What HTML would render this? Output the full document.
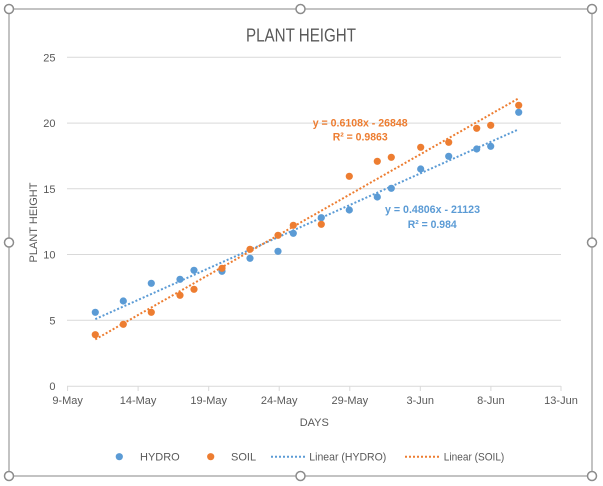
<!DOCTYPE html>
<html><head><meta charset="utf-8"><style>
html,body{margin:0;padding:0;background:#fff;}
svg{display:block;}
text{font-family:"Liberation Sans",Arial,sans-serif;}
</style></head><body>
<svg width="603" height="486" viewBox="0 0 603 486" xmlns="http://www.w3.org/2000/svg">
<rect x="0" y="0" width="603" height="486" fill="#fff"/>
<!-- border -->
<rect x="9" y="9" width="583" height="467" fill="#fff" stroke="#9b9b9b" stroke-width="1.2"/>
<!-- title -->
<text x="301" y="41.5" font-size="18.5" fill="#595959" text-anchor="middle" textLength="110" lengthAdjust="spacingAndGlyphs">PLANT HEIGHT</text>
<!-- gridlines -->
<g stroke="#d9d9d9" stroke-width="1">
<line x1="67" y1="57.3" x2="561" y2="57.3"/>
<line x1="67" y1="123.1" x2="561" y2="123.1"/>
<line x1="67" y1="188.8" x2="561" y2="188.8"/>
<line x1="67" y1="254.5" x2="561" y2="254.5"/>
<line x1="67" y1="320.3" x2="561" y2="320.3"/>
<line x1="67" y1="386.2" x2="561" y2="386.2"/>
<line x1="67.6" y1="386" x2="67.6" y2="391"/>
<line x1="138.1" y1="386" x2="138.1" y2="391"/>
<line x1="208.7" y1="386" x2="208.7" y2="391"/>
<line x1="279.2" y1="386" x2="279.2" y2="391"/>
<line x1="349.8" y1="386" x2="349.8" y2="391"/>
<line x1="420.3" y1="386" x2="420.3" y2="391"/>
<line x1="490.9" y1="386" x2="490.9" y2="391"/>
<line x1="561" y1="386" x2="561" y2="391"/>
</g>
<!-- y labels -->
<g font-size="11" fill="#595959" text-anchor="end">
<text x="55.5" y="61.3">25</text>
<text x="55.5" y="127.1">20</text>
<text x="55.5" y="192.8">15</text>
<text x="55.5" y="258.5">10</text>
<text x="55.5" y="324.3">5</text>
<text x="55.5" y="390.2">0</text>
</g>
<!-- x labels -->
<g font-size="11" fill="#595959" text-anchor="middle">
<text x="67.6" y="404">9-May</text>
<text x="138.1" y="404">14-May</text>
<text x="208.7" y="404">19-May</text>
<text x="279.2" y="404">24-May</text>
<text x="349.8" y="404">29-May</text>
<text x="420.3" y="404">3-Jun</text>
<text x="490.9" y="404">8-Jun</text>
<text x="561" y="404">13-Jun</text>
</g>
<text x="314.3" y="426" font-size="11" fill="#595959" text-anchor="middle">DAYS</text>
<text transform="translate(37,222.5) rotate(-90)" font-size="11" fill="#595959" text-anchor="middle">PLANT HEIGHT</text>
<!-- trendlines -->
<line x1="95.3" y1="319.1" x2="518.7" y2="129.3" stroke="#5b9bd5" stroke-width="2" stroke-dasharray="2 2"/>
<line x1="95.3" y1="339.4" x2="518.7" y2="98.3" stroke="#ed7d31" stroke-width="2" stroke-dasharray="2 2"/>
<!-- HYDRO -->
<g fill="#5b9bd5">
<circle cx="95.3" cy="312.3" r="3.6"/><circle cx="123.3" cy="301" r="3.6"/><circle cx="151.3" cy="283.3" r="3.6"/>
<circle cx="180" cy="279.3" r="3.6"/><circle cx="194" cy="270.3" r="3.6"/><circle cx="222" cy="271.3" r="3.6"/>
<circle cx="250" cy="258.3" r="3.6"/><circle cx="278" cy="251.3" r="3.6"/><circle cx="293.3" cy="233.3" r="3.6"/>
<circle cx="321.3" cy="217.7" r="3.6"/><circle cx="349.3" cy="210" r="3.6"/><circle cx="377.3" cy="197" r="3.6"/>
<circle cx="391.3" cy="188.3" r="3.6"/><circle cx="420.7" cy="169" r="3.6"/><circle cx="448.7" cy="156.3" r="3.6"/>
<circle cx="476.7" cy="149" r="3.6"/><circle cx="490.7" cy="146.3" r="3.6"/><circle cx="518.7" cy="112.3" r="3.6"/>
</g>
<!-- SOIL -->
<g fill="#ed7d31">
<circle cx="95.3" cy="334.7" r="3.6"/><circle cx="123.3" cy="324.3" r="3.6"/><circle cx="151.3" cy="312.3" r="3.6"/>
<circle cx="180" cy="295.3" r="3.6"/><circle cx="194" cy="289.3" r="3.6"/><circle cx="222" cy="268.3" r="3.6"/>
<circle cx="250" cy="249.3" r="3.6"/><circle cx="278" cy="235.3" r="3.6"/><circle cx="293.3" cy="225.3" r="3.6"/>
<circle cx="321.3" cy="224.3" r="3.6"/><circle cx="349.3" cy="176.3" r="3.6"/><circle cx="377.3" cy="161.3" r="3.6"/>
<circle cx="391.3" cy="157.3" r="3.6"/><circle cx="420.7" cy="147.3" r="3.6"/><circle cx="448.7" cy="142.3" r="3.6"/>
<circle cx="476.7" cy="128.3" r="3.6"/><circle cx="490.7" cy="125.3" r="3.6"/><circle cx="518.7" cy="105.3" r="3.6"/>
</g>
<!-- equations -->
<g font-size="11" font-weight="bold" fill="#ed7d31">
<text x="312.7" y="126.5" textLength="95" lengthAdjust="spacingAndGlyphs">y = 0.6108x - 26848</text>
<text x="332.7" y="140.3" textLength="55" lengthAdjust="spacingAndGlyphs">R² = 0.9863</text>
</g>
<g font-size="11" font-weight="bold" fill="#5b9bd5">
<text x="385" y="213" textLength="95" lengthAdjust="spacingAndGlyphs">y = 0.4806x - 21123</text>
<text x="407.7" y="228" textLength="49" lengthAdjust="spacingAndGlyphs">R² = 0.984</text>
</g>
<!-- legend -->
<circle cx="119.3" cy="456.7" r="3.6" fill="#5b9bd5"/>
<circle cx="210.7" cy="456.7" r="3.6" fill="#ed7d31"/>
<line x1="271" y1="456.7" x2="305" y2="456.7" stroke="#5b9bd5" stroke-width="2" stroke-dasharray="2 2"/>
<line x1="405" y1="456.7" x2="439" y2="456.7" stroke="#ed7d31" stroke-width="2" stroke-dasharray="2 2"/>
<g font-size="11" fill="#595959">
<text x="140" y="460.7">HYDRO</text>
<text x="231" y="460.7">SOIL</text>
<text x="309.3" y="460.7" textLength="77" lengthAdjust="spacingAndGlyphs">Linear (HYDRO)</text>
<text x="443.8" y="460.7" textLength="60.5" lengthAdjust="spacingAndGlyphs">Linear (SOIL)</text>
</g>
<!-- handles -->
<g fill="#fff" stroke="#8c8c8c" stroke-width="1.5">
<circle cx="9" cy="9" r="4.5"/><circle cx="300.5" cy="9" r="4.5"/><circle cx="592" cy="9" r="4.5"/>
<circle cx="9" cy="242.5" r="4.5"/><circle cx="592" cy="242.5" r="4.5"/>
<circle cx="9" cy="476" r="4.5"/><circle cx="300.5" cy="476" r="4.5"/><circle cx="592" cy="476" r="4.5"/>
</g>
</svg>
</body></html>
